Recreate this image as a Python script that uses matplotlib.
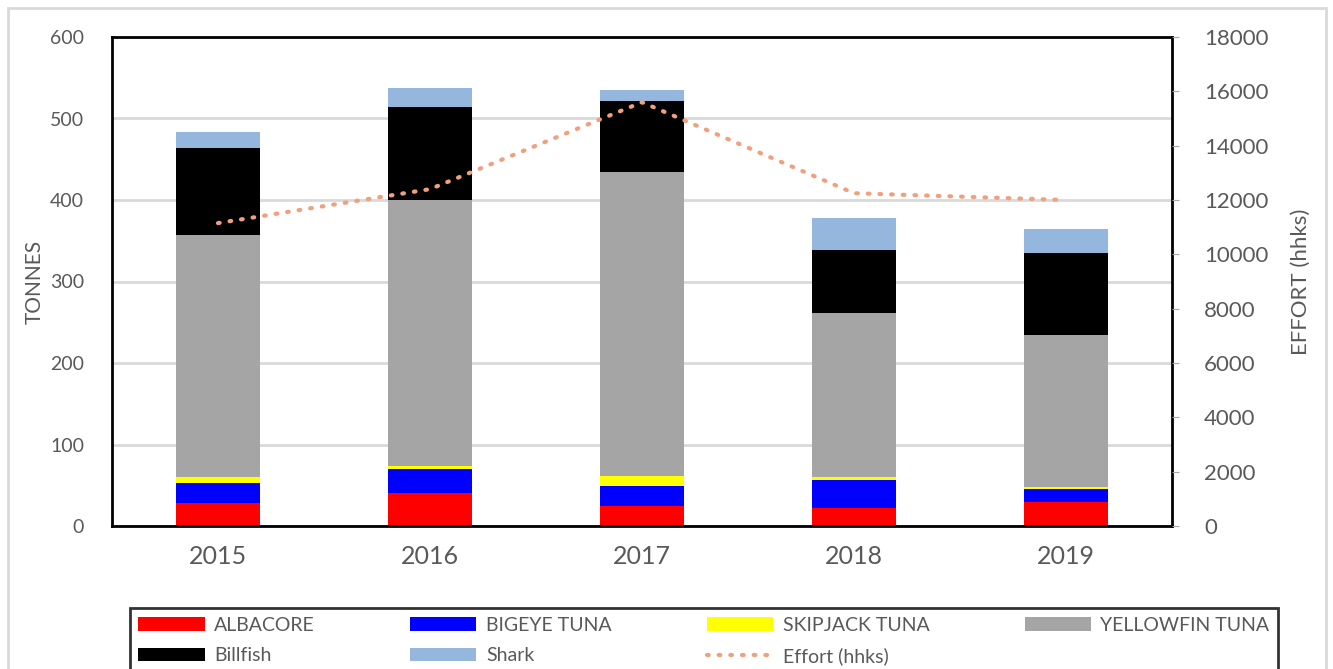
import numpy as np
import matplotlib
matplotlib.use("Agg")
import matplotlib.pyplot as plt
from matplotlib.patches import Rectangle

# catch by species (tonnes) and effort (hooks, hundreds) per year
years = ["2015", "2016", "2017", "2018", "2019"]
albacore = [28, 41, 25, 22, 30]
bigeye = [25, 28.5, 23.5, 34.5, 15.5]
skipjack = [7, 4, 13, 4, 2]
yellowfin = [297, 326, 373, 201, 186.5]
billfish = [107, 114.5, 86.5, 77, 101]
shark = [20, 24, 14, 39.5, 29.5]
effort = [11150, 12400, 15600, 12250, 12000]

series = [
    ("ALBACORE", albacore, "#FF0000"),
    ("BIGEYE TUNA", bigeye, "#0000FF"),
    ("SKIPJACK TUNA", skipjack, "#FFFF00"),
    ("YELLOWFIN TUNA", yellowfin, "#A5A5A5"),
    ("Billfish", billfish, "#000000"),
    ("Shark", shark, "#95B7DE"),
]

txt = "#595959"
plt.rcParams['font.family'] = ['Lato', 'DejaVu Sans']

fig = plt.figure(figsize=(13.33, 6.69), dpi=100)
ax = fig.add_axes([112 / 1333, 1 - 526 / 669, (1172 - 112) / 1333, (526 - 37) / 669])

x = np.arange(len(years))
bottom = np.zeros(len(years))
handles = []
for name, vals, col in series:
    b = ax.bar(x, vals, 0.397, bottom=bottom, color=col, label=name, zorder=2)
    bottom += np.array(vals)
    handles.append(b)

ax.set_xlim(-0.5, 4.5)
ax.set_ylim(0, 600)
ax.set_yticks(range(0, 601, 100))
ax.yaxis.grid(True, color="#D9D9D9", lw=2, zorder=0)
ax.set_axisbelow(True)
ax.set_xticks(x)
ax.set_xticklabels(years, fontsize=18, color=txt)
ax.tick_params(axis="x", length=0, pad=14)
ax.tick_params(axis="y", length=0, pad=20, labelsize=14, labelcolor=txt)
ax.set_ylabel("TONNES", fontsize=15, color=txt, labelpad=4)
for sp in ax.spines.values():
    sp.set_color("black")
    sp.set_linewidth(2)

ax2 = ax.twinx()
ln, = ax2.plot(x, effort, color="#F1A07E", lw=3, linestyle=(0, (0.4, 2.4)),
               dash_capstyle="round", label="Effort (hhks)", zorder=3)
ax2.set_ylim(0, 18000)
ax2.set_yticks(range(0, 18001, 2000))
ax2.tick_params(axis="y", length=5, color="#A6A6A6", pad=18, labelsize=16, labelcolor=txt)
ax2.set_ylabel("EFFORT (hhks)", fontsize=16, color=txt, labelpad=16)
for sp in ax2.spines.values():
    sp.set_visible(False)

# legend fills column by column, so interleave to read across rows
labels = [s[0] for s in series] + ["Effort (hhks)"]
items = handles + [ln]
order = [0, 4, 1, 5, 2, 6, 3]

# legend box runs past the bottom edge of the figure
leg = fig.legend([items[i] for i in order], [labels[i] for i in order],
                 loc="upper left", bbox_to_anchor=(120 / 1333, 1 - 605 / 669, (1288 - 120) / 1333, 0.01),
                 mode="expand", ncol=4, frameon=True, fancybox=False,
                 handlelength=3.4, handleheight=0.7, handletextpad=0.5,
                 labelspacing=0.7, borderpad=0.45, columnspacing=1.0,
                 prop={'family': ['Liberation Sans Narrow', 'Lato'], 'size': 14})
leg.get_frame().set_edgecolor("black")
leg.get_frame().set_linewidth(2)
for t in leg.get_texts():
    t.set_color(txt)

# outer chart border
fig.patches.append(Rectangle((8 / 1333, -0.05), (1326 - 8) / 1333, 1.05 - 8 / 669,
                             transform=fig.transFigure, fill=False,
                             edgecolor="#D9D9D9", lw=2))

fig.savefig("out.png", dpi=100)
